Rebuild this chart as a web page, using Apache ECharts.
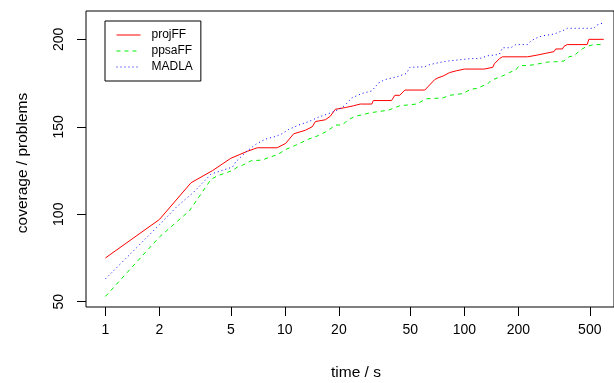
<!DOCTYPE html>
<html>
<head>
<meta charset="utf-8">
<script src="https://cdn.jsdelivr.net/npm/echarts@6/dist/echarts.min.js"></script>
<style>
html,body{margin:0;padding:0;background:#fff;}
#chart{width:614px;height:383px;}
</style>
</head>
<body>
<div id="chart"></div>
<script>
const seriesNames = ['projFF', 'ppsaFF', 'MADLA'];
const xTicks = [1, 2, 5, 10, 20, 50, 100, 200, 500];
const yTicks = [50, 100, 150, 200];

const projFF_t = [1, 2, 3, 3.96, 5, 5.56, 6.18, 7.02, 9.06, 10.1, 11.2, 13, 14.2, 14.8, 16.8, 17.9, 19.1, 21.7, 24.1, 26.3, 30.5, 31.1, 39.3, 41, 43.7, 46.6, 60.2, 61.4, 68.4, 71.3, 76, 82.8, 90.1, 100, 129, 132, 144, 147, 150, 157, 160, 163, 225, 230, 255, 261, 284, 290, 316, 323, 352, 359, 374, 483, 494, 598];
const projFF_v = [75, 97, 118, 125, 132, 134, 136, 138, 138, 140.5, 146, 148, 150, 153, 154, 156, 160, 161, 162, 163, 163, 165, 165, 168, 168, 171, 171, 172, 177, 178, 179, 181, 182, 183, 183, 184, 184, 186, 187, 189, 189, 190, 190, 191, 191, 192, 192, 193, 193, 194.5, 194.5, 196, 197, 197, 200, 200];

const ppsaFF_t = [1, 2, 2.94, 3.88, 4.22, 5.11, 5.44, 5.8, 6.46, 7.49, 8.15, 9.06, 10.1, 11.5, 13.6, 15.4, 16.8, 18.3, 19.1, 20.8, 22.6, 24.6, 27.4, 29.8, 37.7, 43.7, 54.1, 61.4, 76, 82.8, 98.1, 109, 118.8, 123.9, 135, 140.8, 153.3, 167, 178, 193.6, 202, 225, 244.7, 290, 323, 359, 382.5, 407.5, 434.5, 453, 483, 526, 598];
const ppsaFF_v = [53, 87, 102, 120, 122, 125, 127, 128, 130.5, 131, 132.5, 134, 137, 139.5, 143, 145, 147, 149.5, 151, 151, 154, 156, 157, 158, 159.5, 162, 163, 166, 166.5, 168, 169, 171.5, 172, 173, 174.5, 176.5, 178, 179.5, 181, 182.5, 185, 185, 185.5, 187, 187.2, 187.6, 190, 190.6, 193, 194.5, 196, 197, 197];

const MADLA_t = [1, 2, 2.48, 2.82, 3.06, 3.34, 3.88, 5.11, 5.33, 6.06, 6.88, 7.82, 8.88, 9.66, 10.5, 11.96, 13.6, 15.4, 17.5, 19.1, 20.8, 21.7, 23.6, 26.8, 30.5, 33.2, 36.1, 41.9, 47.6, 49.7, 60.2, 62.8, 72.9, 81.1, 92, 109, 121.4, 123.9, 135, 156.6, 160, 163.3, 181.7, 193.6, 225, 234.5, 250, 272.5, 316, 359, 374, 526, 549.5, 585, 598];
const MADLA_v = [63, 94, 104, 109, 112, 116, 123, 127, 130, 135.5, 140, 143, 144.5, 146, 148.5, 151, 153, 155.5, 157.5, 159, 161, 162.5, 166.5, 169, 170.5, 175, 177, 178.5, 180.5, 184, 184.3, 185.3, 186.8, 187.6, 188.2, 189, 189, 190, 190.6, 191.4, 193.3, 195.2, 195.2, 197, 197, 199, 200.6, 202, 203, 205.3, 206.3, 206.3, 208.2, 209.2, 209.2];

function pairs(t, v) { return t.map((x, i) => [x, v[i]]); }

const FONT = 'Liberation Sans, Arial, sans-serif';
const chart = echarts.init(document.getElementById('chart'));
chart.setOption({
  animation: false,
  backgroundColor: '#fff',
  grid: { left: 86, top: 11, right: -3, bottom: 76, show: true, borderColor: '#000', borderWidth: 1, backgroundColor: 'transparent' },
  xAxis: {
    type: 'log', logBase: 10, min: 0.7797, max: 682.1,
    axisLine: { show: false },
    splitLine: { show: false },
    minorTick: { show: false },
    axisTick: { show: true, length: 9, lineStyle: { color: '#000', width: 1 }, customValues: xTicks },
    axisLabel: { color: '#000', fontSize: 14, fontFamily: FONT, margin: 16, customValues: xTicks, formatter: v => String(v) }
  },
  yAxis: {
    type: 'value', min: 46.97, max: 216.2,
    axisLine: { show: false },
    splitLine: { show: false },
    axisTick: { show: true, length: 9, lineStyle: { color: '#000', width: 1 }, customValues: yTicks },
    axisLabel: { color: '#000', fontSize: 14, fontFamily: FONT, rotate: 90, margin: 20, customValues: yTicks, align: 'center', verticalAlign: 'bottom' }
  },
  legend: {
    orient: 'vertical', left: 105, top: 21,
    padding: [8, 8, 8, 11],
    borderColor: '#000', borderWidth: 1, borderRadius: 0,
    backgroundColor: '#fff',
    itemWidth: 24, itemHeight: 10, itemGap: 4,
    itemStyle: { opacity: 0, borderWidth: 0 },
    lineStyle: { width: 1 },
    textStyle: { color: '#000', fontSize: 12, fontFamily: FONT, lineHeight: 12, padding: [0, 0, 0, 6] },
    data: seriesNames
  },
  graphic: [
    { type: 'text', x: 356, y: 373, style: { text: 'time / s', fill: '#000', font: '15.5px ' + FONT, align: 'center', verticalAlign: 'middle' } },
    { type: 'text', x: 23, y: 163, rotation: Math.PI / 2, style: { text: 'coverage / problems', fill: '#000', font: '15.5px ' + FONT, align: 'center', verticalAlign: 'middle' } }
  ],
  series: [
    { name: seriesNames[0], type: 'line', data: pairs(projFF_t, projFF_v), symbol: 'none', showSymbol: false, lineStyle: { color: '#ff0000', width: 1, type: 'solid' }, itemStyle: { color: '#ff0000' } },
    { name: seriesNames[1], type: 'line', data: pairs(ppsaFF_t, ppsaFF_v), symbol: 'none', showSymbol: false, lineStyle: { color: '#00ee00', width: 1, type: [4, 4] }, itemStyle: { color: '#00ee00' } },
    { name: seriesNames[2], type: 'line', data: pairs(MADLA_t, MADLA_v), symbol: 'none', showSymbol: false, lineStyle: { color: '#0000ff', width: 1, type: [1, 3] }, itemStyle: { color: '#0000ff' } }
  ]
});
</script>
</body>
</html>
